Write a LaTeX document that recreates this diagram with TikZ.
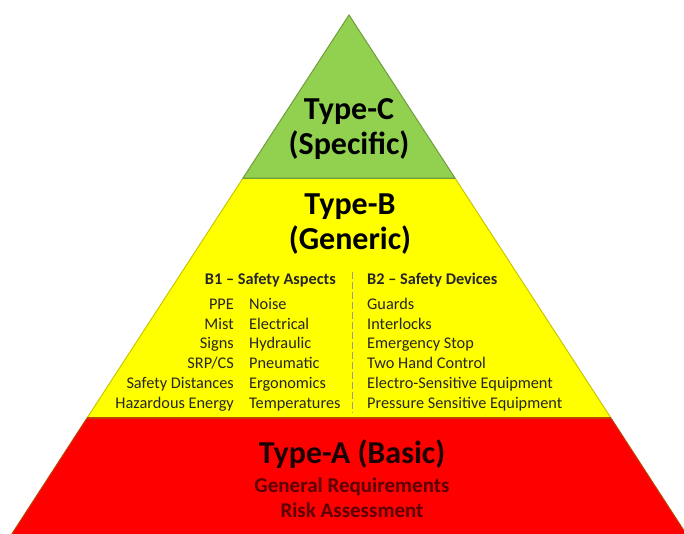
\documentclass[tikz,border=0pt]{standalone}
\usepackage{fontspec}
\setmainfont{Carlito}
\definecolor{pgreen}{HTML}{92D050}
\definecolor{pgreenline}{HTML}{6F9E3C}
\definecolor{pyellow}{HTML}{FFFF00}
\definecolor{pyellowline}{HTML}{C8C800}
\definecolor{pred}{HTML}{FF0000}
\definecolor{predline}{HTML}{C04000}
\definecolor{txt}{HTML}{262626}
\definecolor{redsub}{HTML}{5A0000}
\definecolor{redtitle}{HTML}{1A0000}
\definecolor{sepgray}{HTML}{9A9A9A}
\begin{document}
\begin{tikzpicture}[x=1pt,y=-1pt,
  band/.style={line width=1pt, line join=miter},
  title/.style={font=\fontsize{32}{34}\selectfont\bfseries, text=black, inner sep=0pt, anchor=base},
  redtitlestyle/.style={font=\fontsize{32}{34}\selectfont\bfseries, text=redtitle, inner sep=0pt, anchor=base},
  redsubstyle/.style={font=\fontsize{21}{24}\selectfont\bfseries, text=redsub, inner sep=0pt, anchor=base},
  head/.style={font=\fontsize{16.3}{19}\selectfont\bfseries, text=txt, inner sep=0pt},
  item/.style={font=\fontsize{16.3}{19}\selectfont, text=txt, inner sep=0pt},
  sep/.style={draw=sepgray, line width=0.8pt, dash pattern=on 7pt off 3pt}
]
\useasboundingbox (0,0) rectangle (684,533);
\clip (0,0) rectangle (684,533);
\fill[white] (0,0) rectangle (684,533);
% bands (apex (349,15), half-width slope 0.65)
\draw[band, fill=pred, draw=predline] (87.05,418) -- (610.95,418) -- (703,560) -- (-5,560) -- cycle;
\draw[band, fill=pyellow, draw=pyellowline] (243.05,178) -- (454.95,178) -- (610.95,418) -- (87.05,418) -- cycle;
\draw[band, fill=pgreen, draw=pgreenline] (349,15) -- (454.95,178) -- (243.05,178) -- cycle;
\draw[predline, line width=1.2pt] (87.05,418) -- (610.95,418);
\draw[pgreenline, line width=1pt] (243.05,178) -- (454.95,178);
% Type-C
\node[title] (c1) at (349,119.5) {Type-C};
\node[title] (c2) at (349,154) {(Specific)};
% Type-B
\node[title] (b1t) at (350,214.5) {Type-B};
\node[title] (b2t) at (350,249) {(Generic)};
% B1 / B2 headers
\node[head, anchor=base east] (h1) at (336,284.5) {B1 – Safety Aspects};
\node[head, anchor=base west] (h2) at (367,284.5) {B2 – Safety Devices};
% columns
\foreach \t [count=\i] in {PPE, Mist, Signs, SRP/CS, Safety Distances, Hazardous Energy}
  \node[item, anchor=base east] (l\i) at (234,{309.3+19.8*(\i-1)}) {\t};
\foreach \t [count=\i] in {Noise, Electrical, Hydraulic, Pneumatic, Ergonomics, Temperatures}
  \node[item, anchor=base west] (m\i) at (249,{309.3+19.8*(\i-1)}) {\t};
\foreach \t [count=\i] in {Guards, Interlocks, Emergency Stop, Two Hand Control, Electro-Sensitive Equipment, Pressure Sensitive Equipment}
  \node[item, anchor=base west] (r\i) at (367,{309.3+19.8*(\i-1)}) {\t};
% separator
\coordinate (sepTop) at (352,272);
\coordinate (sepBot) at (352,413);
\draw[sep] (sepTop) -- (sepBot);
% Type-A
\node[redtitlestyle] (a1) at (352,463) {Type-A (Basic)};
\node[redsubstyle] (a2) at (352,492) {General Requirements};
\node[redsubstyle] (a3) at (352,517) {Risk Assessment};
\end{tikzpicture}
\end{document}
